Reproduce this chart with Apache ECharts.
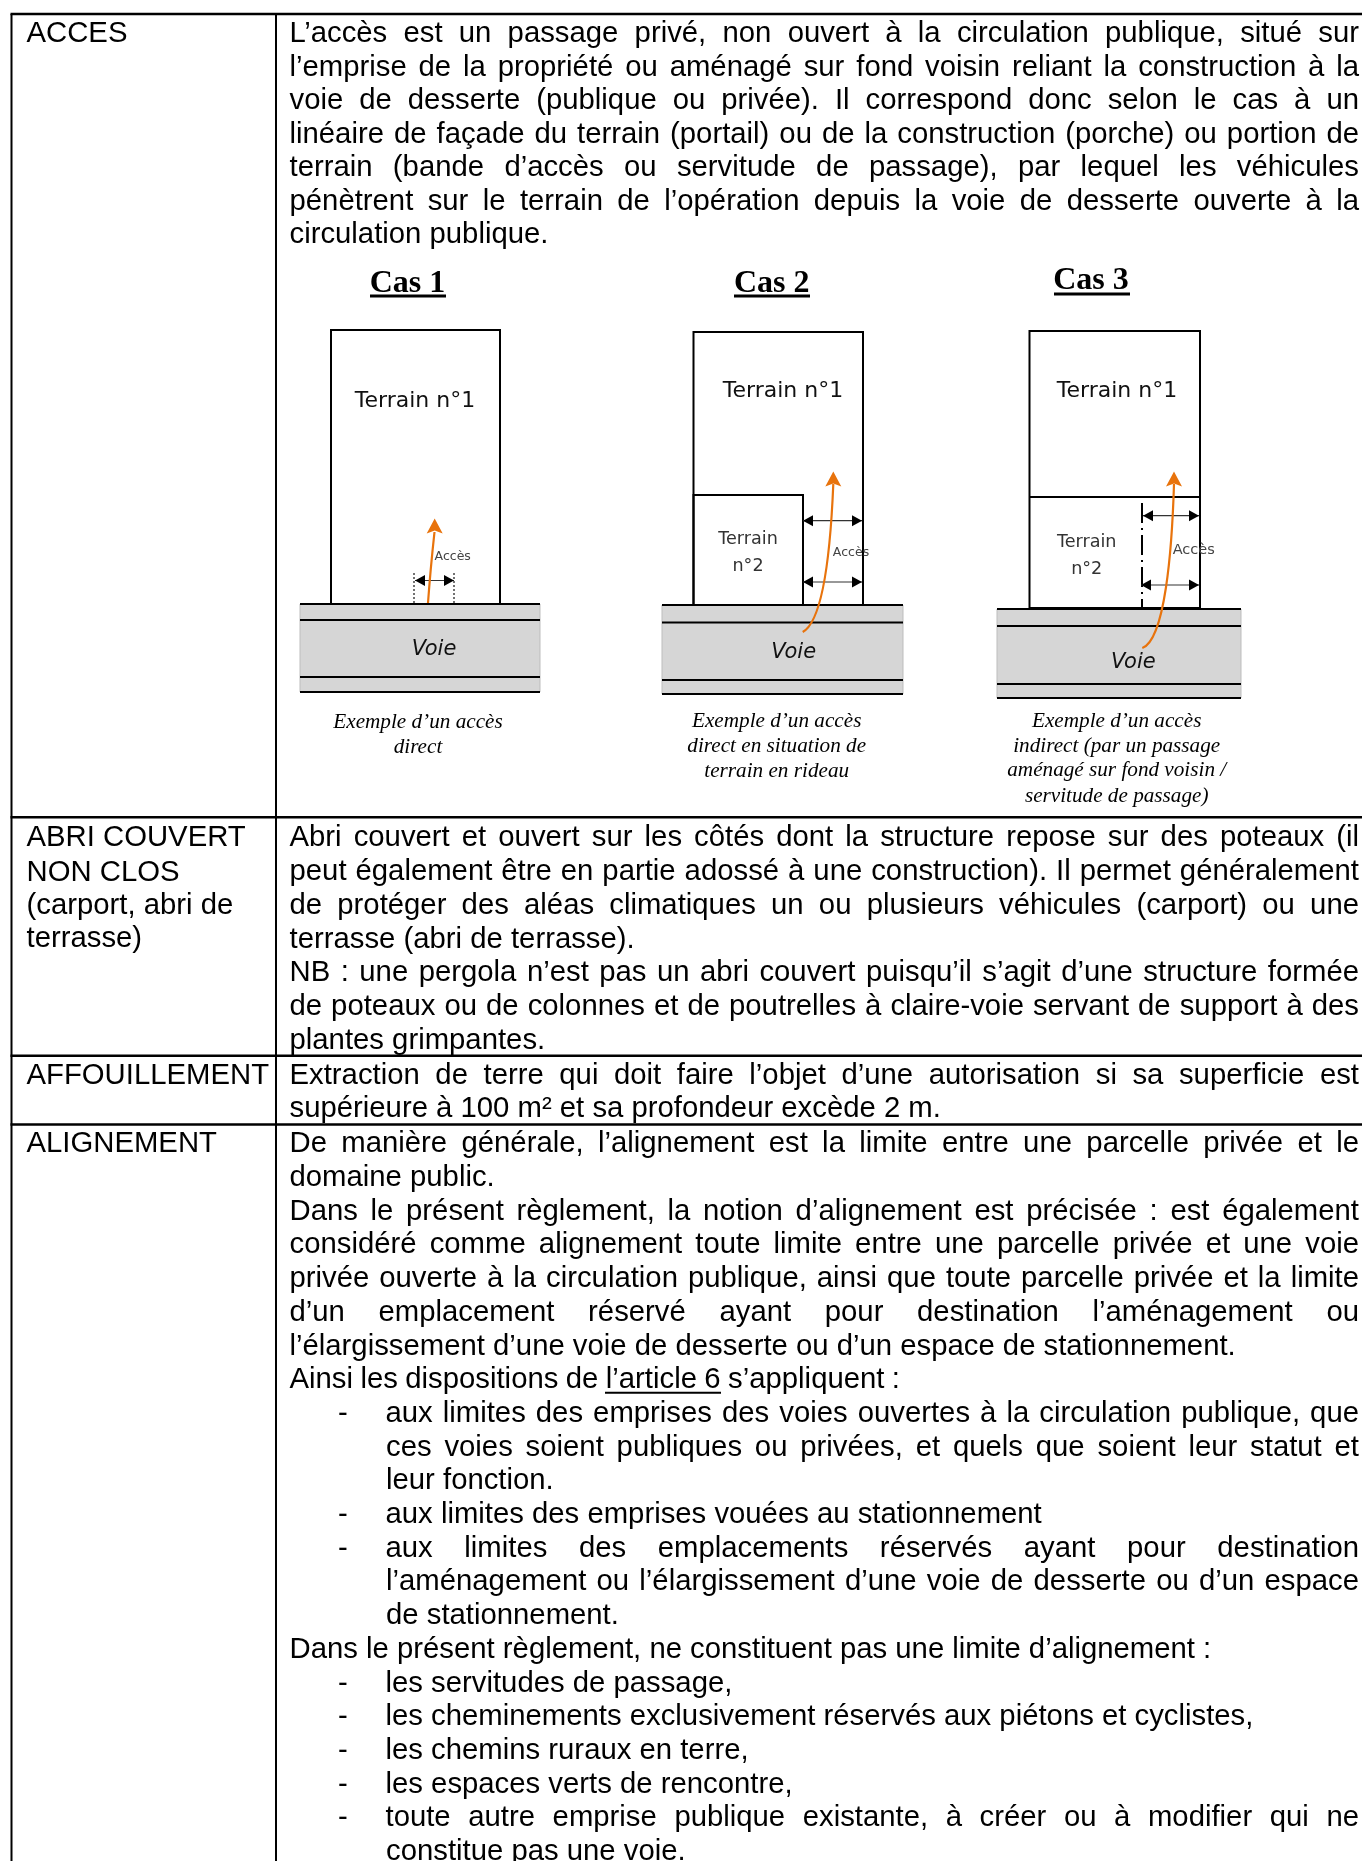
<!DOCTYPE html>
<html><head><meta charset="utf-8">
<style>html,body{margin:0;padding:0;background:#fff}#c{width:1362px;height:1861px}</style>
<script src="https://cdn.jsdelivr.net/npm/echarts@6/dist/echarts.min.js"></script></head>
<body><div id="c"></div>
<script>
// ---- Text content: [text, column start, justified? (1 = to the right edge, or an explicit end)]
const accesLines = [
 ["L’accès est un passage privé, non ouvert à la circulation publique, situé sur","b",1],
 ["l’emprise de la propriété ou aménagé sur fond voisin reliant la construction à la","b",1],
 ["voie de desserte (publique ou privée). Il correspond donc selon le cas à un","b",1],
 ["linéaire de façade du terrain (portail) ou de la construction (porche) ou portion de","b",1],
 ["terrain (bande d’accès ou servitude de passage), par lequel les véhicules","b",1],
 ["pénètrent sur le terrain de l’opération depuis la voie de desserte ouverte à la","b",1],
 ["circulation publique.","b",0]
];
const abriLines = [
 ["Abri couvert et ouvert sur les côtés dont la structure repose sur des poteaux (il","b",1],
 ["peut également être en partie adossé à une construction). Il permet généralement","b",1],
 ["de protéger des aléas climatiques un ou plusieurs véhicules (carport) ou une","b",1],
 ["terrasse (abri de terrasse).","b",0],
 ["NB : une pergola n’est pas un abri couvert puisqu’il s’agit d’une structure formée","b",1],
 ["de poteaux ou de colonnes et de poutrelles à claire-voie servant de support à des","b",1],
 ["plantes grimpantes.","b",0]
];
const affouLines = [
 ["Extraction de terre qui doit faire l’objet d’une autorisation si sa superficie est","b",1],
 ["supérieure à 100 m² et sa profondeur excède 2 m.","b",0]
];
const alignLines = [
 ["De manière générale, l’alignement est la limite entre une parcelle privée et le","b",1],
 ["domaine public.","b",0],
 ["Dans le présent règlement, la notion d’alignement est précisée : est également","b",1],
 ["considéré comme alignement toute limite entre une parcelle privée et une voie","b",1],
 ["privée ouverte à la circulation publique, ainsi que toute parcelle privée et la limite","b",1],
 ["d’un emplacement réservé ayant pour destination l’aménagement ou","b",1],
 ["l’élargissement d’une voie de desserte ou d’un espace de stationnement.","b",0],
 ["Ainsi les dispositions de l’article 6 s’appliquent :","b",900],
 ["aux limites des emprises des voies ouvertes à la circulation publique, que","d",1],
 ["ces voies soient publiques ou privées, et quels que soient leur statut et","i",1],
 ["leur fonction.","i",0],
 ["aux limites des emprises vouées au stationnement","d",0],
 ["aux limites des emplacements réservés ayant pour destination","d",1],
 ["l’aménagement ou l’élargissement d’une voie de desserte ou d’un espace","i",1],
 ["de stationnement.","i",0],
 ["Dans le présent règlement, ne constituent pas une limite d’alignement :","b",0],
 ["les servitudes de passage,","d",0],
 ["les cheminements exclusivement réservés aux piétons et cyclistes,","d",0],
 ["les chemins ruraux en terre,","d",0],
 ["les espaces verts de rencontre,","d",0],
 ["toute autre emprise publique existante, à créer ou à modifier qui ne","d",1],
 ["constitue pas une voie.","i",0]
];
const termLabels = [
 ["ACCES",34.3],["ABRI COUVERT",838.3],["NON CLOS",872.5],["(carport, abri de",906.3],["terrasse)",939.3],
 ["AFFOUILLEMENT",1075.9],["ALIGNEMENT",1144.3]
];
// ---- Layout of the text blocks: first-line centre y, line pitch
const blocks = [[accesLines,34.3,33.5],[abriLines,838.3,33.75],[affouLines,1075.9,33.5],[alignLines,1144.3,33.7]];
const columnX = {b:289.5,d:385.5,i:386};
const rightEdge = 1359;
const bodyFont = "29.3px 'Liberation Sans'";

// ---- Table rules [x1,y1,x2,y2,width]
const tableRules = [
 [10.5,14,1362,14,2.5],[10.5,817.3,1362,817.3,2.5],[10.5,1055.7,1362,1055.7,2.5],[10.5,1124.5,1362,1124.5,2.5],
 [11.5,14,11.5,1861,2],[276,14,276,1861,2]
];
// ---- Diagram: boxes, road bands, rules
const roadBands = [[300,604,540,692],[662,605,903,694],[997,609,1241,698]];
const plotBoxes = [[331,330,500,604],[693.5,332,863,605],[693.5,495,803,605],[1029.5,331,1200,608]];
const roadRules = [
 [300,604,540,604],[300,620,540,620],[300,677,540,677],[300,692,540,692],
 [662,605,903,605],[662,622.5,903,622.5],[662,680,903,680],[662,694,903,694],
 [997,609,1241,609],[997,626,1241,626],[997,684,1241,684],[997,698,1241,698],
 [1029,497,1200,497]
];
const underlines = [[370,296,446,296],[734,296,810,296],[1054,294,1130,294]];
const linkRule = [[605,1392.7,721,1392.7]];
const dottedRules = [[414,573,414,604],[454,573,454,604]];
const dashDotRules = [[1142,503,1142,608]];
const dimArrows = [[415,580.5,454,580.5],[803,520.7,862,520.7],[803,582,862,582],[1143,515.7,1199,515.7],[1141,585,1199,585]];
const accessCurves = [
 [[428,603],[430,575],[432,555],[434.5,532]],
 [[802.7,632],[825,620],[831,540],[833.3,484]],
 [[1142.3,648],[1165,640],[1172,550],[1174,484]]
];
const curveTips = [[434.7,518.6],[833.3,471.4],[1174,471.4]];
// ---- Diagram labels [text,x,y,kind]
const diagramLabels = [
 ["Cas 1",407.5,283.4,"title"],["Cas 2",771.7,283.4,"title"],["Cas 3",1091,281,"title"],
 ["Terrain n°1",415,401,"big"],["Terrain n°1",783,391.5,"big"],["Terrain n°1",1117,391.5,"big"],
 ["Terrain",748,539.5,"mid"],["n°2",748,566.5,"mid"],["Terrain",1086.7,542,"mid"],["n°2",1086.7,569,"mid"],
 ["Accès",452.7,556.6,"small"],["Accès",851,552.7,"small"],["Accès",1193.7,550.6,"small3"],
 ["Voie",434,649.5,"voie"],["Voie",793.7,653,"voie"],["Voie",1133.3,663,"voie"],
 ["Exemple d’un accès",418,722.2,"cap"],["direct",418,747.2,"cap"],
 ["Exemple d’un accès",776.7,721.6,"cap"],["direct en situation de",776.7,746.6,"cap"],["terrain en rideau",776.7,771.6,"cap"],
 ["Exemple d’un accès",1116.7,721.2,"cap"],["indirect (par un passage",1116.7,746.2,"cap"],["aménagé sur fond voisin /",1116.7,770.5,"cap"],["servitude de passage)",1116.7,796.6,"cap"]
];
const labelFonts = {
 title:["bold 32px 'Liberation Serif'","#000"],
 big:["22px 'DejaVu Sans'","#111"],
 mid:["17.6px 'DejaVu Sans'","#333"],
 small:["12.5px 'DejaVu Sans'","#444"],
 small3:["14.5px 'DejaVu Sans'","#444"],
 voie:["italic 21px 'DejaVu Sans'","#111"],
 cap:["italic 21.2px 'Liberation Serif'","#000"]
};

// ---- Word placement (justification) with text metrics
const ctx = document.createElement('canvas').getContext('2d');
ctx.font = bodyFont;
const bodyWords = [];
blocks.forEach(([lines,y0,pitch])=>{
  lines.forEach((l,i)=>{
    const y=y0+i*pitch, x0=columnX[l[1]];
    if(l[1]==='d') bodyWords.push(['-',338,y]);
    if(!l[2]){ bodyWords.push([l[0],x0,y]); return; }
    const end=l[2]===1?rightEdge:l[2];
    const words=l[0].split(' ');
    const total=words.reduce((s,w)=>s+ctx.measureText(w).width,0);
    const gap=(end-x0-total)/(words.length-1);
    let x=x0;
    words.forEach(w=>{bodyWords.push([w,x,y]); x+=ctx.measureText(w).width+gap;});
  });
});
termLabels.forEach(t=>bodyWords.push([t[0],26.5,t[1]]));

// ---- Custom series helpers: every mark goes through the hidden pixel axes
const segSeries=(data,style,z)=>({type:'custom',coordinateSystem:'cartesian2d',z,silent:true,data,clip:false,
  encode:{x:[0,2],y:[1,3]},
  renderItem(p,api){const a=api.coord([api.value(0),api.value(1)]),b=api.coord([api.value(2),api.value(3)]);
    const w=style.byWidth?api.value(4):style.lineWidth;
    return {type:'line',shape:{x1:a[0],y1:a[1],x2:b[0],y2:b[1]},style:{stroke:style.stroke,lineWidth:w,lineDash:style.lineDash}};}});
const boxSeries=(data,fill,stroke,lw,z)=>({type:'custom',z,silent:true,data,clip:false,encode:{x:[0,2],y:[1,3]},
  renderItem(p,api){const a=api.coord([api.value(0),api.value(1)]),b=api.coord([api.value(2),api.value(3)]);
    return {type:'rect',shape:{x:a[0],y:a[1],width:b[0]-a[0],height:b[1]-a[1]},style:{fill,stroke,lineWidth:lw}};}});
const arrowHead=(x,y,dx,dy,hl,hw)=>{
  const bx=x-dx*hl,by=y-dy*hl,nx=-dy,ny=dx;
  return [[x,y],[bx+nx*hw,by+ny*hw],[bx-nx*hw,by-ny*hw]];};

const option={
 animation:false,backgroundColor:'#fff',
 grid:{left:0,right:0,top:0,bottom:0},
 xAxis:{type:'value',min:0,max:1362,show:false},
 yAxis:{type:'value',min:0,max:1861,inverse:true,show:false},
 series:[
  boxSeries(roadBands,'#d6d6d6','#bdbdbd',1,1),
  boxSeries(plotBoxes,'rgba(0,0,0,0)','#000',2,2),
  segSeries(tableRules,{stroke:'#000',byWidth:true},3),
  segSeries(roadRules,{stroke:'#000',lineWidth:2},4),
  segSeries(underlines,{stroke:'#000',lineWidth:3},4),
  segSeries(linkRule,{stroke:'#000',lineWidth:2},4),
  segSeries(dottedRules,{stroke:'#444',lineWidth:1.5,lineDash:[2,2]},4),
  segSeries(dashDotRules,{stroke:'#000',lineWidth:2,lineDash:[20,5,2,5]},4),
  segSeries(dimArrows,{stroke:'#333',lineWidth:1.2},4),
  {type:'custom',z:5,silent:true,clip:false,data:dimArrows,encode:{x:[0,2],y:[1,3]},
   renderItem(p,api){const a=api.coord([api.value(0),api.value(1)]),b=api.coord([api.value(2),api.value(3)]);
    const L=arrowHead(a[0],a[1],-1,0,10,5.5),R=arrowHead(b[0],b[1],1,0,10,5.5);
    return {type:'group',children:[L,R].map(pts=>({type:'polygon',shape:{points:pts},style:{fill:'#000'}}))};}},
  {type:'custom',z:6,silent:true,clip:false,data:accessCurves.map(c=>c.flat()),encode:{x:[0,2,4,6],y:[1,3,5,7]},
   renderItem(p,api){const q=[0,2,4,6].map(i=>api.coord([api.value(i),api.value(i+1)]));
    return {type:'bezierCurve',shape:{x1:q[0][0],y1:q[0][1],cpx1:q[1][0],cpy1:q[1][1],cpx2:q[2][0],cpy2:q[2][1],x2:q[3][0],y2:q[3][1]},
      style:{stroke:'#e8730c',lineWidth:2.2,fill:null}};}},
  {type:'custom',z:6,silent:true,clip:false,data:curveTips,encode:{x:0,y:1},
   renderItem(p,api){const a=api.coord([api.value(0),api.value(1)]);
    return {type:'polygon',shape:{points:[[a[0],a[1]],[a[0]-8,a[1]+15],[a[0],a[1]+12],[a[0]+8,a[1]+15]]},style:{fill:'#e8730c'}};}},
  {type:'custom',z:7,silent:true,clip:false,data:diagramLabels.map(d=>[d[1],d[2]]),encode:{x:0,y:1},
   renderItem(p,api){const d=diagramLabels[p.dataIndex],a=api.coord([d[1],d[2]]),f=labelFonts[d[3]];
    return {type:'text',style:{text:d[0],x:a[0],y:a[1],font:f[0],fill:f[1],align:'center',verticalAlign:'middle'}};}},
  {type:'custom',z:8,silent:true,clip:false,data:bodyWords.map(d=>[d[1],d[2]]),encode:{x:0,y:1},
   renderItem(p,api){const d=bodyWords[p.dataIndex],a=api.coord([d[1],d[2]]);
    return {type:'text',style:{text:d[0],x:a[0],y:a[1],font:bodyFont,fill:'#000',align:'left',verticalAlign:'middle'}};}}
 ]
};
const chart=echarts.init(document.getElementById('c'),null,{renderer:'canvas'});
chart.setOption(option);
</script></body></html>
